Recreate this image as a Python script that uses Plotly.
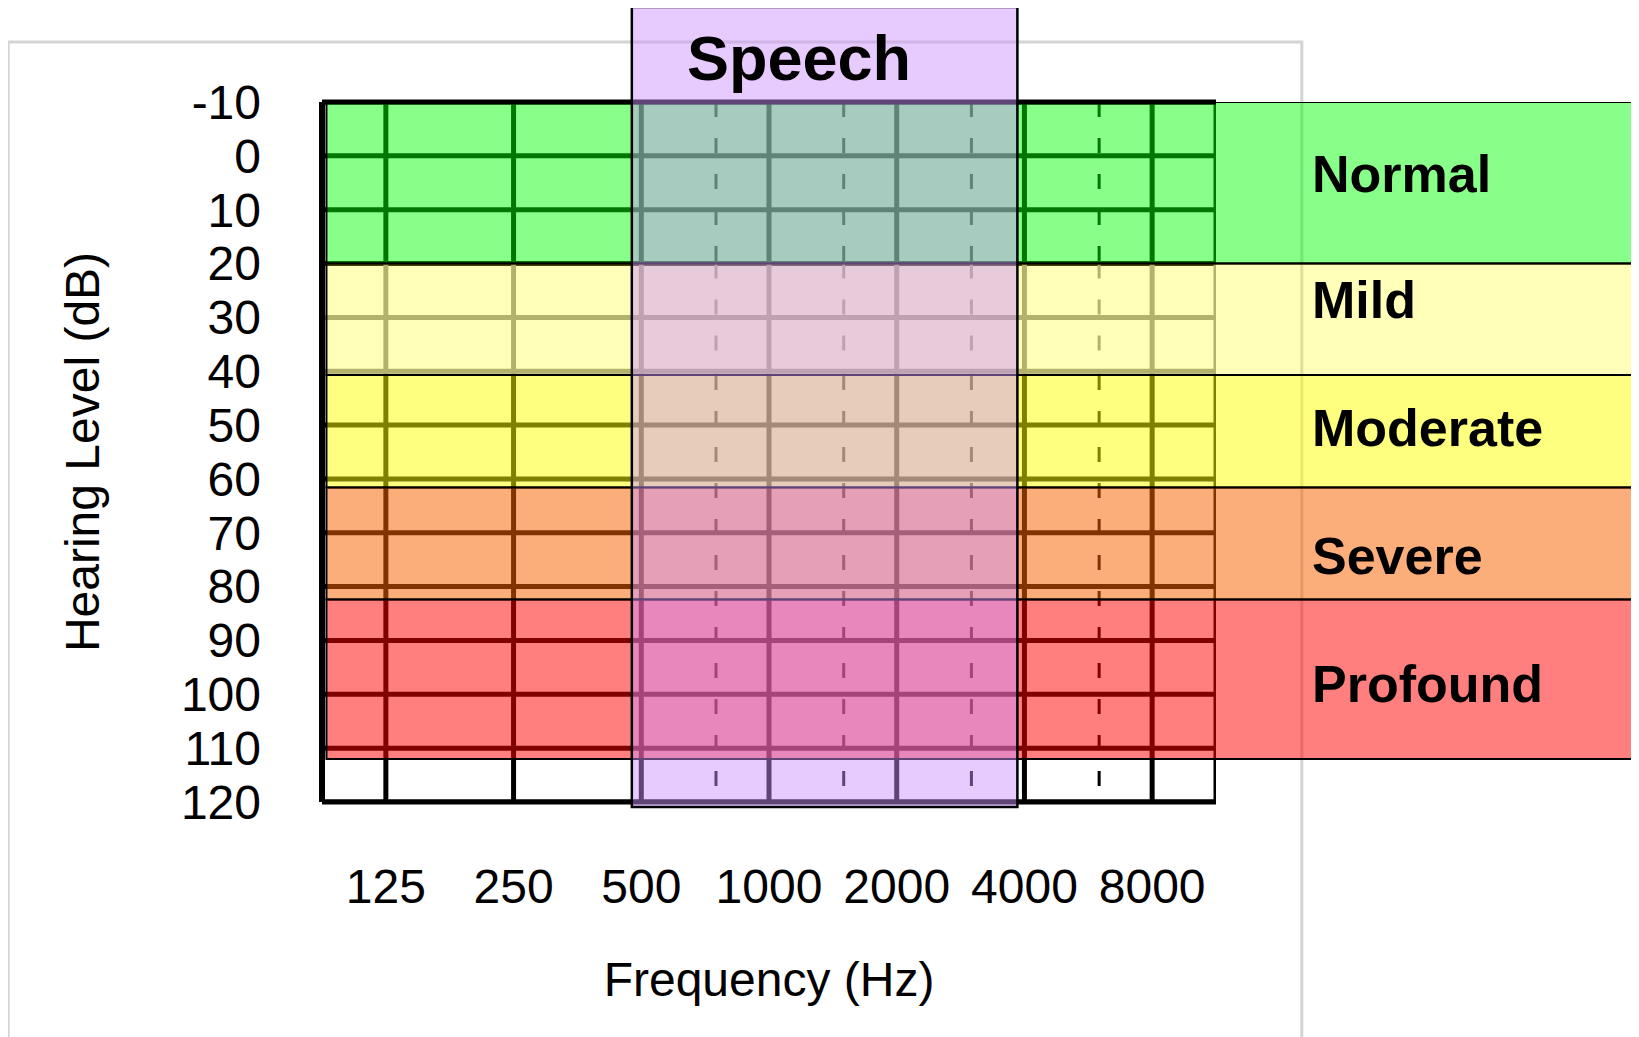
import numpy as np
import plotly.graph_objects as go

# ---------------- data ----------------
freq_octaves = [125, 250, 500, 1000, 2000, 4000, 8000]
freq_labels = ["125", "250", "500", "1000", "2000", "4000", "8000"]
freq_half = [750, 1500, 3000, 6000]
db_ticks = list(range(-10, 121, 10))
db_labels = [str(v) for v in db_ticks]

band_names = ["Normal", "Mild", "Moderate", "Severe", "Profound"]
band_top = [-10, 20, 40.7, 61.6, 82.4]
band_bottom = [20, 40.7, 61.6, 82.4, 112]
band_rgb = ["0,255,0", "255,255,0", "255,255,0", "250,100,0", "255,0,0"]
band_alpha = [0.467, 0.27, 0.5, 0.52, 0.5]
band_grid_under = ["black", "rgb(150,150,150)", "black", "black", "black"]
band_label_db = [3.3, 26.8, 50.6, 74.3, 98.1]

speech_hz = [475, 3850]
speech_label = "Speech"

# ---------------- figure ----------------
xmin = freq_octaves[0] / np.sqrt(2)
xmax = freq_octaves[-1] * np.sqrt(2)
ymin, ymax = db_ticks[0], db_ticks[-1]

zones = [[t, b, c] for t, b, c in zip(band_top, band_bottom, band_grid_under)]
if band_bottom[-1] < ymax:
    zones.append([band_bottom[-1], ymax, "black"])
merged = []
for z in zones:
    if merged and merged[-1][2] == z[2]:
        merged[-1][1] = z[1]
    else:
        merged.append(list(z))


def zone_color(v):
    for t, b, c in zones:
        if t < v <= b:
            return c
    return "black"


groups = {}


def add(key, xs, ys):
    g = groups.setdefault(key, ([], []))
    g[0].extend(list(xs) + [None])
    g[1].extend(list(ys) + [None])


for v in db_ticks:
    add((zone_color(v), 5, "solid"), [xmin, xmax], [v, v])
for f in freq_octaves + [xmax]:
    for t, b, c in merged:
        add((c, 5, "solid"), [f, f], [t, b])
for f in freq_half:
    for t, b, c in merged:
        add((c, 3, "15px,21px"), [f, f], [t, b])

fig = go.Figure()
for (c, w, d), (xs, ys) in groups.items():
    fig.add_trace(go.Scatter(x=xs, y=ys, mode="lines",
                             line=dict(color=c, width=w, dash=d),
                             hoverinfo="skip", showlegend=False, cliponaxis=False))

shapes = []
# light grey outer frame
shapes.append(dict(type="rect", xref="paper", yref="paper", x0=-0.351, x1=1.096,
                   y0=-0.4, y1=1.0857, line=dict(color="#D4D4D4", width=3),
                   fillcolor="rgba(0,0,0,0)", layer="above"))
# hearing-loss bands
for t, b, rgb, a in zip(band_top, band_bottom, band_rgb, band_alpha):
    shapes.append(dict(type="rect", xref="paper", yref="y", x0=0.005, x1=1.5,
                       y0=t, y1=b, fillcolor=f"rgba({rgb},{a})",
                       line=dict(color="black", width=2), layer="above"))
# plot borders (left, top, bottom)
shapes.append(dict(type="line", xref="paper", yref="paper", x0=0, x1=0, y0=0, y1=1,
                   line=dict(color="black", width=6), layer="above"))
shapes.append(dict(type="line", xref="paper", yref="paper", x0=0, x1=1, y0=1, y1=1,
                   line=dict(color="black", width=5), layer="above"))
shapes.append(dict(type="line", xref="paper", yref="paper", x0=0, x1=1, y0=0, y1=0,
                   line=dict(color="black", width=5), layer="above"))
# speech region
shapes.append(dict(type="rect", xref="x", yref="paper", x0=speech_hz[0], x1=speech_hz[1],
                   y0=-0.007, y1=1.1357, fillcolor="rgba(205,145,255,0.47)",
                   line=dict(color="black", width=2.5), layer="above"))

annotations = [dict(text=f"<b>{speech_label}</b>", xref="paper", yref="paper",
                    x=0.406, y=1.063, xanchor="left", yanchor="middle", showarrow=False,
                    font=dict(size=63, color="black", family="Liberation Sans, Arial, sans-serif"))]
for name, ydb in zip(band_names, band_label_db):
    annotations.append(dict(text=f"<b>{name}</b>", xref="paper", yref="y",
                            x=1.105, y=ydb, xanchor="left", yanchor="middle", showarrow=False,
                            font=dict(size=52, color="black", family="Liberation Sans, Arial, sans-serif")))

fig.update_layout(
    template="none",
    width=1631, height=1029,
    margin=dict(l=314, r=423, t=94, b=235, autoexpand=False),
    paper_bgcolor="white", plot_bgcolor="white",
    shapes=shapes, annotations=annotations, showlegend=False,
    font=dict(family="Liberation Sans, Arial, sans-serif", color="black"),
)
fig.update_xaxes(type="log", range=[np.log10(xmin), np.log10(xmax)],
                 tickvals=freq_octaves, ticktext=freq_labels, showgrid=False,
                 zeroline=False, showline=False, ticks="", ticklabelstandoff=52,
                 tickfont=dict(size=48), automargin=False,
                 title=dict(text="Frequency (Hz)", font=dict(size=48), standoff=50))
fig.update_yaxes(range=[ymax, ymin], tickvals=db_ticks, ticktext=db_labels,
                 showgrid=False, zeroline=False, showline=False, ticks="",
                 ticklabelstandoff=60, tickfont=dict(size=48), automargin=False,
                 title=dict(text="Hearing Level (dB)", font=dict(size=48), standoff=66))

fig.write_html("out.html", config={"displayModeBar": False})
